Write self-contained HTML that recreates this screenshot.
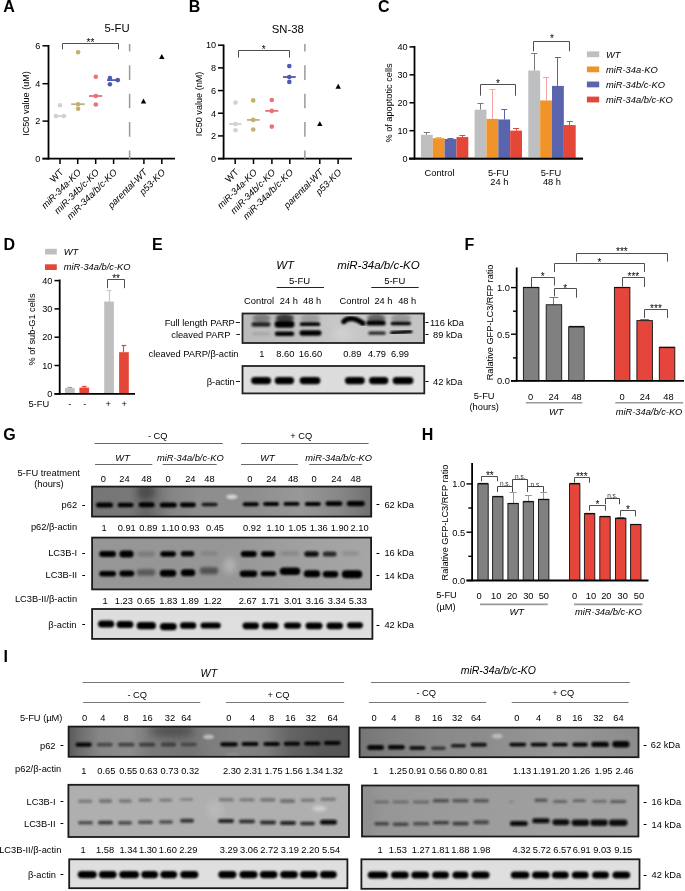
<!DOCTYPE html>
<html><head><meta charset="utf-8"><style>
html,body{margin:0;padding:0;background:#fff;}
svg{display:block;font-family:"Liberation Sans", sans-serif;will-change:transform;}
</style></head><body>
<svg width="685" height="891" viewBox="0 0 685 891">
<defs><filter id="b8" x="-50%" y="-50%" width="200%" height="200%"><feGaussianBlur stdDeviation="0.8"/></filter><filter id="b9" x="-50%" y="-50%" width="200%" height="200%"><feGaussianBlur stdDeviation="0.9"/></filter><filter id="b10" x="-50%" y="-50%" width="200%" height="200%"><feGaussianBlur stdDeviation="1.0"/></filter><filter id="b12" x="-50%" y="-50%" width="200%" height="200%"><feGaussianBlur stdDeviation="1.2"/></filter><filter id="b14" x="-50%" y="-50%" width="200%" height="200%"><feGaussianBlur stdDeviation="1.4"/></filter><filter id="b15" x="-50%" y="-50%" width="200%" height="200%"><feGaussianBlur stdDeviation="1.5"/></filter><filter id="b16" x="-50%" y="-50%" width="200%" height="200%"><feGaussianBlur stdDeviation="1.6"/></filter><filter id="b18" x="-50%" y="-50%" width="200%" height="200%"><feGaussianBlur stdDeviation="1.8"/></filter><filter id="b30" x="-50%" y="-50%" width="200%" height="200%"><feGaussianBlur stdDeviation="3.0"/></filter><filter id="b40" x="-50%" y="-50%" width="200%" height="200%"><feGaussianBlur stdDeviation="4.0"/></filter><clipPath id="c1"><rect x="242.50" y="313.50" width="181.50" height="29.50"/></clipPath><linearGradient id="g1" gradientUnits="userSpaceOnUse" x1="242.50" y1="0" x2="424.00" y2="0"><stop offset="0.0000" stop-color="rgb(186,186,186)"/><stop offset="0.3168" stop-color="rgb(192,192,192)"/><stop offset="0.5372" stop-color="rgb(200,200,200)"/><stop offset="1.0000" stop-color="rgb(196,196,196)"/></linearGradient><clipPath id="c2"><rect x="242.50" y="366.00" width="181.80" height="27.40"/></clipPath><linearGradient id="g2" gradientUnits="userSpaceOnUse" x1="242.50" y1="0" x2="424.30" y2="0"><stop offset="0.0000" stop-color="rgb(222,222,222)"/><stop offset="0.4813" stop-color="rgb(220,220,220)"/><stop offset="0.9983" stop-color="rgb(226,226,226)"/></linearGradient><clipPath id="c3"><rect x="92.00" y="486.60" width="279.20" height="30.00"/></clipPath><linearGradient id="g3" gradientUnits="userSpaceOnUse" x1="92.00" y1="0" x2="371.20" y2="0"><stop offset="0.0000" stop-color="rgb(118,118,118)"/><stop offset="0.1361" stop-color="rgb(120,120,120)"/><stop offset="0.1934" stop-color="rgb(100,100,100)"/><stop offset="0.2794" stop-color="rgb(132,132,132)"/><stop offset="0.3868" stop-color="rgb(142,142,142)"/><stop offset="0.5659" stop-color="rgb(142,142,142)"/><stop offset="0.7450" stop-color="rgb(152,152,152)"/><stop offset="0.8883" stop-color="rgb(135,135,135)"/><stop offset="0.9993" stop-color="rgb(112,112,112)"/></linearGradient><clipPath id="c4"><rect x="92.10" y="537.60" width="279.00" height="51.80"/></clipPath><linearGradient id="g4" gradientUnits="userSpaceOnUse" x1="92.10" y1="0" x2="371.10" y2="0"><stop offset="-0.0004" stop-color="rgb(150,150,150)"/><stop offset="0.4943" stop-color="rgb(150,150,150)"/><stop offset="0.7452" stop-color="rgb(160,160,160)"/><stop offset="0.9996" stop-color="rgb(166,166,166)"/></linearGradient><clipPath id="c5"><rect x="92.10" y="609.00" width="280.30" height="29.90"/></clipPath><clipPath id="c6"><rect x="68.60" y="726.60" width="280.20" height="30.20"/></clipPath><linearGradient id="g6" gradientUnits="userSpaceOnUse" x1="68.60" y1="0" x2="348.80" y2="0"><stop offset="0.0000" stop-color="rgb(88,88,88)"/><stop offset="0.0407" stop-color="rgb(110,110,110)"/><stop offset="0.1121" stop-color="rgb(135,135,135)"/><stop offset="0.2191" stop-color="rgb(140,140,140)"/><stop offset="0.2905" stop-color="rgb(122,122,122)"/><stop offset="0.4333" stop-color="rgb(116,116,116)"/><stop offset="0.5046" stop-color="rgb(125,125,125)"/><stop offset="0.6117" stop-color="rgb(130,130,130)"/><stop offset="0.7009" stop-color="rgb(126,126,126)"/><stop offset="0.7901" stop-color="rgb(100,100,100)"/><stop offset="0.8972" stop-color="rgb(88,88,88)"/><stop offset="1.0000" stop-color="rgb(85,85,85)"/></linearGradient><clipPath id="c7"><rect x="359.60" y="727.60" width="278.90" height="29.60"/></clipPath><linearGradient id="g7" gradientUnits="userSpaceOnUse" x1="359.60" y1="0" x2="638.50" y2="0"><stop offset="0.0000" stop-color="rgb(118,118,118)"/><stop offset="0.0731" stop-color="rgb(124,124,124)"/><stop offset="0.2883" stop-color="rgb(138,138,138)"/><stop offset="0.4317" stop-color="rgb(140,140,140)"/><stop offset="0.7185" stop-color="rgb(150,150,150)"/><stop offset="1.0000" stop-color="rgb(140,140,140)"/></linearGradient><clipPath id="c8"><rect x="68.40" y="784.80" width="280.60" height="52.20"/></clipPath><clipPath id="c9"><rect x="362.00" y="785.50" width="276.40" height="51.00"/></clipPath><linearGradient id="g9" gradientUnits="userSpaceOnUse" x1="362.00" y1="0" x2="638.40" y2="0"><stop offset="0.0000" stop-color="rgb(148,148,148)"/><stop offset="0.2098" stop-color="rgb(153,153,153)"/><stop offset="0.7164" stop-color="rgb(160,160,160)"/><stop offset="1.0000" stop-color="rgb(162,162,162)"/></linearGradient><clipPath id="c10"><rect x="69.20" y="859.30" width="278.20" height="28.90"/></clipPath><clipPath id="c11"><rect x="361.40" y="859.30" width="278.10" height="29.50"/></clipPath></defs>
<rect width="685" height="891" fill="#fff"/>
<text x="3.30" y="12.20" font-size="16" text-anchor="start" fill="#000" style="font-weight:bold;">A</text>
<text x="117.00" y="32.47" font-size="11.3" text-anchor="middle" fill="#000" style="">5-FU</text>
<line x1="48.50" y1="45.00" x2="48.50" y2="159.50" stroke="#000" stroke-width="1.8"/>
<line x1="42.50" y1="158.60" x2="175.00" y2="158.60" stroke="#000" stroke-width="1.8"/>
<line x1="42.50" y1="45.80" x2="48.50" y2="45.80" stroke="#000" stroke-width="1.5"/>
<text x="40.30" y="49.08" font-size="9.1" text-anchor="end" fill="#000" style="">6</text>
<line x1="42.50" y1="83.70" x2="48.50" y2="83.70" stroke="#000" stroke-width="1.5"/>
<text x="40.30" y="86.98" font-size="9.1" text-anchor="end" fill="#000" style="">4</text>
<line x1="42.50" y1="121.10" x2="48.50" y2="121.10" stroke="#000" stroke-width="1.5"/>
<text x="40.30" y="124.38" font-size="9.1" text-anchor="end" fill="#000" style="">2</text>
<line x1="42.50" y1="158.60" x2="48.50" y2="158.60" stroke="#000" stroke-width="1.5"/>
<text x="40.30" y="161.88" font-size="9.1" text-anchor="end" fill="#000" style="">0</text>
<line x1="60.00" y1="158.60" x2="60.00" y2="164.00" stroke="#000" stroke-width="1.5"/>
<text x="64.00" y="172.80" font-size="9.3" text-anchor="end" fill="#000" style="" transform="rotate(-45 64.00 172.80)">WT</text>
<line x1="77.70" y1="158.60" x2="77.70" y2="164.00" stroke="#000" stroke-width="1.5"/>
<text x="81.70" y="172.80" font-size="9.3" text-anchor="end" fill="#000" style="font-style:italic;" transform="rotate(-45 81.70 172.80)">miR-34a-KO</text>
<line x1="95.70" y1="158.60" x2="95.70" y2="164.00" stroke="#000" stroke-width="1.5"/>
<text x="99.70" y="172.80" font-size="9.3" text-anchor="end" fill="#000" style="font-style:italic;" transform="rotate(-45 99.70 172.80)">miR-34b/c-KO</text>
<line x1="113.60" y1="158.60" x2="113.60" y2="164.00" stroke="#000" stroke-width="1.5"/>
<text x="117.60" y="172.80" font-size="9.3" text-anchor="end" fill="#000" style="font-style:italic;" transform="rotate(-45 117.60 172.80)">miR-34a/b/c-KO</text>
<line x1="143.90" y1="158.60" x2="143.90" y2="164.00" stroke="#000" stroke-width="1.5"/>
<text x="147.90" y="172.80" font-size="9.3" text-anchor="end" fill="#000" style="font-style:italic;" transform="rotate(-45 147.90 172.80)">parental-WT</text>
<line x1="161.80" y1="158.60" x2="161.80" y2="164.00" stroke="#000" stroke-width="1.5"/>
<text x="165.80" y="172.80" font-size="9.3" text-anchor="end" fill="#000" style="font-style:italic;" transform="rotate(-45 165.80 172.80)">p53-KO</text>
<text x="29.10" y="103.50" font-size="9.1" text-anchor="middle" fill="#000" style="" transform="rotate(-90 29.10 103.50)">IC50 value (uM)</text>
<line x1="129.60" y1="44.00" x2="129.60" y2="159.00" stroke="#9a9a9a" stroke-width="1.5" stroke-dasharray="14.6 13.8" stroke-dashoffset="7.1"/>
<path d="M62.50 49.30V43.50H118.50V49.30" stroke="#505050" stroke-width="1" fill="none"/>
<text x="90.50" y="45.75" font-size="10" text-anchor="middle" fill="#000" style="">**</text>
<line x1="53.70" y1="116.10" x2="66.40" y2="116.10" stroke="#d2d2d2" stroke-width="1.8"/>
<circle cx="60.00" cy="105.20" r="2.3" fill="#d2d2d2"/>
<circle cx="56.00" cy="116.10" r="2.3" fill="#d2d2d2"/>
<circle cx="63.80" cy="116.10" r="2.3" fill="#d2d2d2"/>
<line x1="71.20" y1="104.20" x2="84.70" y2="104.20" stroke="#c1b06e" stroke-width="1.8"/>
<circle cx="78.10" cy="52.30" r="2.3" fill="#c1b06e"/>
<circle cx="78.10" cy="104.20" r="2.3" fill="#c1b06e"/>
<circle cx="78.10" cy="108.80" r="2.3" fill="#c1b06e"/>
<line x1="89.00" y1="96.00" x2="102.20" y2="96.00" stroke="#ee6f76" stroke-width="1.8"/>
<circle cx="95.80" cy="76.70" r="2.3" fill="#ee6f76"/>
<circle cx="95.80" cy="96.00" r="2.3" fill="#ee6f76"/>
<circle cx="95.80" cy="104.50" r="2.3" fill="#ee6f76"/>
<line x1="107.00" y1="80.10" x2="120.10" y2="80.10" stroke="#4f59b1" stroke-width="1.8"/>
<circle cx="109.90" cy="78.10" r="2.3" fill="#4f59b1"/>
<circle cx="109.90" cy="84.20" r="2.3" fill="#4f59b1"/>
<circle cx="117.70" cy="80.10" r="2.3" fill="#4f59b1"/>
<polygon points="140.80,103.43 146.20,103.43 143.50,98.57" fill="#000"/>
<polygon points="159.10,58.93 164.50,58.93 161.80,54.07" fill="#000"/>
<text x="188.70" y="12.30" font-size="16" text-anchor="start" fill="#000" style="font-weight:bold;">B</text>
<text x="287.80" y="32.57" font-size="11.3" text-anchor="middle" fill="#000" style="">SN-38</text>
<line x1="223.60" y1="44.50" x2="223.60" y2="159.50" stroke="#000" stroke-width="1.8"/>
<line x1="218.00" y1="158.60" x2="352.00" y2="158.60" stroke="#000" stroke-width="1.8"/>
<line x1="218.00" y1="45.20" x2="223.60" y2="45.20" stroke="#000" stroke-width="1.5"/>
<text x="216.00" y="48.48" font-size="9.1" text-anchor="end" fill="#000" style="">10</text>
<line x1="218.00" y1="67.88" x2="223.60" y2="67.88" stroke="#000" stroke-width="1.5"/>
<text x="216.00" y="71.16" font-size="9.1" text-anchor="end" fill="#000" style="">8</text>
<line x1="218.00" y1="90.56" x2="223.60" y2="90.56" stroke="#000" stroke-width="1.5"/>
<text x="216.00" y="93.84" font-size="9.1" text-anchor="end" fill="#000" style="">6</text>
<line x1="218.00" y1="113.24" x2="223.60" y2="113.24" stroke="#000" stroke-width="1.5"/>
<text x="216.00" y="116.52" font-size="9.1" text-anchor="end" fill="#000" style="">4</text>
<line x1="218.00" y1="135.92" x2="223.60" y2="135.92" stroke="#000" stroke-width="1.5"/>
<text x="216.00" y="139.20" font-size="9.1" text-anchor="end" fill="#000" style="">2</text>
<line x1="218.00" y1="158.60" x2="223.60" y2="158.60" stroke="#000" stroke-width="1.5"/>
<text x="216.00" y="161.88" font-size="9.1" text-anchor="end" fill="#000" style="">0</text>
<line x1="235.20" y1="158.60" x2="235.20" y2="164.00" stroke="#000" stroke-width="1.5"/>
<text x="239.20" y="172.80" font-size="9.3" text-anchor="end" fill="#000" style="" transform="rotate(-45 239.20 172.80)">WT</text>
<line x1="253.50" y1="158.60" x2="253.50" y2="164.00" stroke="#000" stroke-width="1.5"/>
<text x="257.50" y="172.80" font-size="9.3" text-anchor="end" fill="#000" style="font-style:italic;" transform="rotate(-45 257.50 172.80)">miR-34a-KO</text>
<line x1="271.90" y1="158.60" x2="271.90" y2="164.00" stroke="#000" stroke-width="1.5"/>
<text x="275.90" y="172.80" font-size="9.3" text-anchor="end" fill="#000" style="font-style:italic;" transform="rotate(-45 275.90 172.80)">miR-34b/c-KO</text>
<line x1="289.80" y1="158.60" x2="289.80" y2="164.00" stroke="#000" stroke-width="1.5"/>
<text x="293.80" y="172.80" font-size="9.3" text-anchor="end" fill="#000" style="font-style:italic;" transform="rotate(-45 293.80 172.80)">miR-34a/b/c-KO</text>
<line x1="319.80" y1="158.60" x2="319.80" y2="164.00" stroke="#000" stroke-width="1.5"/>
<text x="323.80" y="172.80" font-size="9.3" text-anchor="end" fill="#000" style="font-style:italic;" transform="rotate(-45 323.80 172.80)">parental-WT</text>
<line x1="338.10" y1="158.60" x2="338.10" y2="164.00" stroke="#000" stroke-width="1.5"/>
<text x="342.10" y="172.80" font-size="9.3" text-anchor="end" fill="#000" style="font-style:italic;" transform="rotate(-45 342.10 172.80)">p53-KO</text>
<text x="202.10" y="104.00" font-size="9.1" text-anchor="middle" fill="#000" style="" transform="rotate(-90 202.10 104.00)">IC50 value (nM)</text>
<line x1="304.90" y1="44.00" x2="304.90" y2="159.00" stroke="#9a9a9a" stroke-width="1.5" stroke-dasharray="14.6 13.8" stroke-dashoffset="7.1"/>
<path d="M238.50 57.60V50.50H289.50V57.60" stroke="#505050" stroke-width="1" fill="none"/>
<text x="263.75" y="52.55" font-size="10" text-anchor="middle" fill="#000" style="">*</text>
<line x1="229.00" y1="124.00" x2="241.60" y2="124.00" stroke="#d2d2d2" stroke-width="1.8"/>
<circle cx="235.50" cy="102.60" r="2.3" fill="#d2d2d2"/>
<circle cx="235.50" cy="124.00" r="2.3" fill="#d2d2d2"/>
<circle cx="235.50" cy="130.30" r="2.3" fill="#d2d2d2"/>
<line x1="247.00" y1="119.90" x2="259.60" y2="119.90" stroke="#c1b06e" stroke-width="1.8"/>
<circle cx="253.20" cy="100.40" r="2.3" fill="#c1b06e"/>
<circle cx="253.20" cy="119.90" r="2.3" fill="#c1b06e"/>
<circle cx="253.20" cy="129.50" r="2.3" fill="#c1b06e"/>
<line x1="265.20" y1="110.90" x2="278.30" y2="110.90" stroke="#ee6f76" stroke-width="1.8"/>
<circle cx="271.80" cy="100.00" r="2.3" fill="#ee6f76"/>
<circle cx="271.80" cy="110.90" r="2.3" fill="#ee6f76"/>
<circle cx="271.80" cy="126.60" r="2.3" fill="#ee6f76"/>
<line x1="283.00" y1="77.00" x2="295.80" y2="77.00" stroke="#4f59b1" stroke-width="1.8"/>
<circle cx="289.30" cy="66.10" r="2.3" fill="#4f59b1"/>
<circle cx="289.30" cy="77.00" r="2.3" fill="#4f59b1"/>
<circle cx="289.30" cy="81.90" r="2.3" fill="#4f59b1"/>
<polygon points="317.10,126.03 322.50,126.03 319.80,121.17" fill="#000"/>
<polygon points="335.50,88.73 340.90,88.73 338.20,83.87" fill="#000"/>
<text x="378.10" y="12.30" font-size="16" text-anchor="start" fill="#000" style="font-weight:bold;">C</text>
<line x1="414.50" y1="46.00" x2="414.50" y2="159.50" stroke="#000" stroke-width="1.8"/>
<line x1="409.00" y1="158.60" x2="583.00" y2="158.60" stroke="#000" stroke-width="1.8"/>
<line x1="409.50" y1="46.90" x2="414.50" y2="46.90" stroke="#000" stroke-width="1.5"/>
<text x="407.50" y="50.18" font-size="9.1" text-anchor="end" fill="#000" style="">40</text>
<line x1="409.50" y1="74.83" x2="414.50" y2="74.83" stroke="#000" stroke-width="1.5"/>
<text x="407.50" y="78.11" font-size="9.1" text-anchor="end" fill="#000" style="">30</text>
<line x1="409.50" y1="102.76" x2="414.50" y2="102.76" stroke="#000" stroke-width="1.5"/>
<text x="407.50" y="106.04" font-size="9.1" text-anchor="end" fill="#000" style="">20</text>
<line x1="409.50" y1="130.69" x2="414.50" y2="130.69" stroke="#000" stroke-width="1.5"/>
<text x="407.50" y="133.97" font-size="9.1" text-anchor="end" fill="#000" style="">10</text>
<line x1="409.50" y1="158.62" x2="414.50" y2="158.62" stroke="#000" stroke-width="1.5"/>
<text x="407.50" y="161.90" font-size="9.1" text-anchor="end" fill="#000" style="">0</text>
<text x="392.00" y="103.00" font-size="9.2" text-anchor="middle" fill="#000" style="" transform="rotate(-90 392.00 103.00)">% of apoptotic cells</text>
<line x1="426.50" y1="134.84" x2="426.50" y2="132.05" stroke="#7a7a7a" stroke-width="1"/>
<line x1="423.82" y1="132.50" x2="429.82" y2="132.50" stroke="#7a7a7a" stroke-width="1"/>
<rect x="420.90" y="134.84" width="11.85" height="23.76" fill="#bebfc1" stroke="none" stroke-width="0"/>
<line x1="438.50" y1="138.20" x2="438.50" y2="137.36" stroke="#f4a3a3" stroke-width="1"/>
<line x1="435.68" y1="137.50" x2="441.68" y2="137.50" stroke="#f4a3a3" stroke-width="1"/>
<rect x="432.75" y="138.20" width="11.85" height="20.40" fill="#f0942a" stroke="none" stroke-width="0"/>
<line x1="450.50" y1="139.03" x2="450.50" y2="138.48" stroke="#5a64ac" stroke-width="1"/>
<line x1="447.52" y1="138.50" x2="453.52" y2="138.50" stroke="#5a64ac" stroke-width="1"/>
<rect x="444.60" y="139.03" width="11.85" height="19.56" fill="#5a64ac" stroke="none" stroke-width="0"/>
<line x1="462.50" y1="137.08" x2="462.50" y2="135.12" stroke="#e44638" stroke-width="1"/>
<line x1="459.38" y1="135.50" x2="465.38" y2="135.50" stroke="#e44638" stroke-width="1"/>
<rect x="456.45" y="137.08" width="11.85" height="21.52" fill="#e44638" stroke="none" stroke-width="0"/>
<line x1="480.50" y1="109.69" x2="480.50" y2="103.54" stroke="#7a7a7a" stroke-width="1"/>
<line x1="477.53" y1="103.50" x2="483.53" y2="103.50" stroke="#7a7a7a" stroke-width="1"/>
<rect x="474.60" y="109.69" width="11.85" height="48.91" fill="#bebfc1" stroke="none" stroke-width="0"/>
<line x1="492.50" y1="118.91" x2="492.50" y2="89.56" stroke="#f4a3a3" stroke-width="1"/>
<line x1="489.38" y1="89.50" x2="495.38" y2="89.50" stroke="#f4a3a3" stroke-width="1"/>
<rect x="486.45" y="118.91" width="11.85" height="39.69" fill="#f0942a" stroke="none" stroke-width="0"/>
<line x1="504.50" y1="119.47" x2="504.50" y2="109.97" stroke="#5a64ac" stroke-width="1"/>
<line x1="501.23" y1="109.50" x2="507.23" y2="109.50" stroke="#5a64ac" stroke-width="1"/>
<rect x="498.30" y="119.47" width="11.85" height="39.13" fill="#5a64ac" stroke="none" stroke-width="0"/>
<line x1="516.50" y1="130.65" x2="516.50" y2="128.69" stroke="#e44638" stroke-width="1"/>
<line x1="513.08" y1="128.50" x2="519.08" y2="128.50" stroke="#e44638" stroke-width="1"/>
<rect x="510.15" y="130.65" width="11.85" height="27.95" fill="#e44638" stroke="none" stroke-width="0"/>
<line x1="534.50" y1="70.56" x2="534.50" y2="53.79" stroke="#7a7a7a" stroke-width="1"/>
<line x1="531.22" y1="53.50" x2="537.22" y2="53.50" stroke="#7a7a7a" stroke-width="1"/>
<rect x="528.30" y="70.56" width="11.85" height="88.04" fill="#bebfc1" stroke="none" stroke-width="0"/>
<line x1="546.50" y1="100.46" x2="546.50" y2="77.55" stroke="#f4a3a3" stroke-width="1"/>
<line x1="543.07" y1="77.50" x2="549.07" y2="77.50" stroke="#f4a3a3" stroke-width="1"/>
<rect x="540.15" y="100.46" width="11.85" height="58.14" fill="#f0942a" stroke="none" stroke-width="0"/>
<line x1="557.50" y1="85.93" x2="557.50" y2="57.98" stroke="#5a64ac" stroke-width="1"/>
<line x1="554.92" y1="57.50" x2="560.92" y2="57.50" stroke="#5a64ac" stroke-width="1"/>
<rect x="552.00" y="85.93" width="11.85" height="72.67" fill="#5a64ac" stroke="none" stroke-width="0"/>
<line x1="569.50" y1="125.06" x2="569.50" y2="121.43" stroke="#e44638" stroke-width="1"/>
<line x1="566.77" y1="121.50" x2="572.77" y2="121.50" stroke="#e44638" stroke-width="1"/>
<rect x="563.85" y="125.06" width="11.85" height="33.54" fill="#e44638" stroke="none" stroke-width="0"/>
<line x1="409.00" y1="158.60" x2="583.00" y2="158.60" stroke="#000" stroke-width="1.8"/>
<path d="M480.50 95.70V84.50H515.50V95.70" stroke="#505050" stroke-width="1" fill="none"/>
<text x="497.95" y="87.35" font-size="10" text-anchor="middle" fill="#000" style="">*</text>
<path d="M533.50 51.30V41.50H569.50V51.30" stroke="#505050" stroke-width="1" fill="none"/>
<text x="551.85" y="41.95" font-size="10" text-anchor="middle" fill="#000" style="">*</text>
<text x="439.50" y="175.55" font-size="9.3" text-anchor="middle" fill="#000" style="">Control</text>
<text x="498.30" y="175.55" font-size="9.3" text-anchor="middle" fill="#000" style="">5-FU</text>
<text x="499.30" y="184.95" font-size="9.3" text-anchor="middle" fill="#000" style="">24 h</text>
<text x="551.00" y="175.55" font-size="9.3" text-anchor="middle" fill="#000" style="">5-FU</text>
<text x="552.00" y="184.95" font-size="9.3" text-anchor="middle" fill="#000" style="">48 h</text>
<rect x="586.90" y="51.40" width="12.30" height="5.80" fill="#bebfc1" stroke="none" stroke-width="0"/>
<text x="606.00" y="57.65" font-size="9.3" text-anchor="start" fill="#000" style="font-style:italic;">WT</text>
<rect x="586.90" y="66.47" width="12.30" height="5.80" fill="#f0942a" stroke="none" stroke-width="0"/>
<text x="606.00" y="72.72" font-size="9.3" text-anchor="start" fill="#000" style="font-style:italic;">miR-34a-KO</text>
<rect x="586.90" y="81.54" width="12.30" height="5.80" fill="#5a64ac" stroke="none" stroke-width="0"/>
<text x="606.00" y="87.79" font-size="9.3" text-anchor="start" fill="#000" style="font-style:italic;">miR-34b/c-KO</text>
<rect x="586.90" y="96.61" width="12.30" height="5.80" fill="#e44638" stroke="none" stroke-width="0"/>
<text x="606.00" y="102.86" font-size="9.3" text-anchor="start" fill="#000" style="font-style:italic;">miR-34a/b/c-KO</text>
<text x="3.50" y="249.70" font-size="16" text-anchor="start" fill="#000" style="font-weight:bold;">D</text>
<rect x="45.00" y="248.80" width="11.80" height="5.70" fill="#bebfc1" stroke="none" stroke-width="0"/>
<text x="63.80" y="255.05" font-size="9.3" text-anchor="start" fill="#000" style="font-style:italic;">WT</text>
<rect x="45.00" y="264.30" width="11.80" height="5.70" fill="#e44638" stroke="none" stroke-width="0"/>
<text x="63.80" y="270.45" font-size="9.3" text-anchor="start" fill="#000" style="font-style:italic;">miR-34a/b/c-KO</text>
<line x1="59.70" y1="279.50" x2="59.70" y2="394.70" stroke="#000" stroke-width="1.8"/>
<line x1="54.50" y1="280.60" x2="59.70" y2="280.60" stroke="#000" stroke-width="1.5"/>
<text x="52.30" y="283.88" font-size="9.1" text-anchor="end" fill="#000" style="">40</text>
<line x1="54.50" y1="308.90" x2="59.70" y2="308.90" stroke="#000" stroke-width="1.5"/>
<text x="52.30" y="312.18" font-size="9.1" text-anchor="end" fill="#000" style="">30</text>
<line x1="54.50" y1="337.20" x2="59.70" y2="337.20" stroke="#000" stroke-width="1.5"/>
<text x="52.30" y="340.48" font-size="9.1" text-anchor="end" fill="#000" style="">20</text>
<line x1="54.50" y1="365.50" x2="59.70" y2="365.50" stroke="#000" stroke-width="1.5"/>
<text x="52.30" y="368.78" font-size="9.1" text-anchor="end" fill="#000" style="">10</text>
<line x1="54.50" y1="393.80" x2="59.70" y2="393.80" stroke="#000" stroke-width="1.5"/>
<text x="52.30" y="397.08" font-size="9.1" text-anchor="end" fill="#000" style="">0</text>
<text x="35.20" y="329.50" font-size="9.2" text-anchor="middle" fill="#000" style="" transform="rotate(-90 35.20 329.50)">% of sub-G1 cells</text>
<line x1="69.50" y1="388.14" x2="69.50" y2="387.86" stroke="#9a9a9a" stroke-width="1.2"/>
<line x1="67.50" y1="387.50" x2="72.20" y2="387.50" stroke="#9a9a9a" stroke-width="1.2"/>
<rect x="65.00" y="388.14" width="9.70" height="5.66" fill="#bebfc1" stroke="none" stroke-width="0"/>
<line x1="84.50" y1="387.57" x2="84.50" y2="386.44" stroke="#e44638" stroke-width="1.2"/>
<line x1="81.90" y1="386.50" x2="86.60" y2="386.50" stroke="#e44638" stroke-width="1.2"/>
<rect x="79.40" y="387.57" width="9.70" height="6.23" fill="#e44638" stroke="none" stroke-width="0"/>
<line x1="109.50" y1="301.54" x2="109.50" y2="290.22" stroke="#c8c8c8" stroke-width="1.2"/>
<line x1="106.70" y1="290.50" x2="111.40" y2="290.50" stroke="#c8c8c8" stroke-width="1.2"/>
<rect x="104.20" y="301.54" width="9.70" height="92.26" fill="#bebfc1" stroke="none" stroke-width="0"/>
<line x1="123.50" y1="352.20" x2="123.50" y2="345.41" stroke="#e44638" stroke-width="1.2"/>
<line x1="121.60" y1="345.50" x2="126.30" y2="345.50" stroke="#e44638" stroke-width="1.2"/>
<rect x="119.10" y="352.20" width="9.70" height="41.60" fill="#e44638" stroke="none" stroke-width="0"/>
<line x1="54.50" y1="393.80" x2="135.00" y2="393.80" stroke="#000" stroke-width="1.8"/>
<path d="M107.50 288.20V279.50H124.50V288.20" stroke="#505050" stroke-width="1" fill="none"/>
<text x="116.10" y="281.75" font-size="10" text-anchor="middle" fill="#000" style="">**</text>
<text x="38.80" y="407.45" font-size="9.3" text-anchor="middle" fill="#000" style="">5-FU</text>
<text x="69.90" y="407.45" font-size="9.3" text-anchor="middle" fill="#000" style="">-</text>
<text x="84.80" y="407.45" font-size="9.3" text-anchor="middle" fill="#000" style="">-</text>
<text x="108.30" y="407.45" font-size="9.3" text-anchor="middle" fill="#000" style="">+</text>
<text x="124.30" y="407.45" font-size="9.3" text-anchor="middle" fill="#000" style="">+</text>
<text x="152.00" y="249.70" font-size="16" text-anchor="start" fill="#000" style="font-weight:bold;">E</text>
<text x="285.20" y="268.94" font-size="11.5" text-anchor="middle" fill="#000" style="font-style:italic;">WT</text>
<text x="378.40" y="268.94" font-size="11.5" text-anchor="middle" fill="#000" style="font-style:italic;">miR-34a/b/c-KO</text>
<text x="299.50" y="283.62" font-size="9.5" text-anchor="middle" fill="#000" style="">5-FU</text>
<line x1="276.70" y1="287.50" x2="324.00" y2="287.50" stroke="#222" stroke-width="1"/>
<text x="394.70" y="283.62" font-size="9.5" text-anchor="middle" fill="#000" style="">5-FU</text>
<line x1="371.30" y1="287.50" x2="418.60" y2="287.50" stroke="#222" stroke-width="1"/>
<text x="259.10" y="304.05" font-size="9.3" text-anchor="middle" fill="#000" style="">Control</text>
<text x="288.90" y="304.05" font-size="9.3" text-anchor="middle" fill="#000" style="">24 h</text>
<text x="312.10" y="304.05" font-size="9.3" text-anchor="middle" fill="#000" style="">48 h</text>
<text x="354.60" y="304.05" font-size="9.3" text-anchor="middle" fill="#000" style="">Control</text>
<text x="383.50" y="304.05" font-size="9.3" text-anchor="middle" fill="#000" style="">24 h</text>
<text x="407.20" y="304.05" font-size="9.3" text-anchor="middle" fill="#000" style="">48 h</text>
<g clip-path="url(#c1)">
<rect x="242.50" y="313.50" width="181.50" height="29.50" fill="url(#g1)" stroke="none" stroke-width="0"/>
<ellipse cx="261.50" cy="318.20" rx="9.00" ry="4.20" fill="rgb(124,124,124)" opacity="1.0" filter="url(#b16)"/>
<ellipse cx="284.80" cy="318.20" rx="9.20" ry="4.20" fill="rgb(58,58,58)" opacity="1.0" filter="url(#b16)"/>
<ellipse cx="310.20" cy="318.20" rx="9.80" ry="4.20" fill="rgb(156,156,156)" opacity="1.0" filter="url(#b16)"/>
<ellipse cx="376.20" cy="318.20" rx="9.20" ry="4.20" fill="rgb(101,101,101)" opacity="1.0" filter="url(#b16)"/>
<ellipse cx="401.00" cy="318.20" rx="10.00" ry="4.20" fill="rgb(150,150,150)" opacity="1.0" filter="url(#b16)"/>
<ellipse cx="343.00" cy="334.00" rx="10.00" ry="6.00" fill="#d2d2d2" opacity="0.8" filter="url(#b30)"/>
<rect x="251.50" y="322.10" width="19.00" height="4.60" rx="2.30" fill="#1a1a1a" opacity="0.95" filter="url(#b9)"/>
<rect x="252.00" y="331.95" width="18.00" height="3.50" rx="1.75" fill="#555" opacity="0.18" filter="url(#b12)"/>
<rect x="274.50" y="320.70" width="20.00" height="7.00" rx="3.50" fill="#000" opacity="1" filter="url(#b8)"/>
<rect x="274.75" y="331.50" width="19.50" height="4.40" rx="2.20" fill="#000" opacity="1" filter="url(#b8)"/>
<rect x="299.75" y="322.30" width="20.50" height="3.80" rx="1.90" fill="#000" opacity="1" filter="url(#b8)"/>
<rect x="299.50" y="330.20" width="22.00" height="5.60" rx="2.80" fill="#000" opacity="1" filter="url(#b8)"/>
<path d="M343.8 321.6 C347 317.6 355 317 363 323.4" stroke="#000" stroke-width="5.2" fill="none" stroke-linecap="round" filter="url(#b8)"/>
<rect x="366.25" y="320.40" width="19.50" height="5.20" rx="2.60" fill="#000" opacity="1" filter="url(#b8)"/>
<rect x="368.25" y="331.40" width="17.50" height="3.40" rx="1.70" fill="#1a1a1a" opacity="0.95" filter="url(#b9)"/>
<rect x="390.55" y="321.70" width="20.50" height="3.60" rx="1.80" fill="#000" opacity="1" filter="url(#b8)"/>
<path d="M392 333 Q401 332.4 410.5 331.6" stroke="#111" stroke-width="4.0" fill="none" stroke-linecap="round" filter="url(#b8)"/>
</g>
<rect x="242.50" y="313.50" width="181.50" height="29.50" fill="none" stroke="#222" stroke-width="1.8"/>
<text x="234.80" y="326.35" font-size="9.3" text-anchor="end" fill="#000" style="">Full length PARP</text>
<line x1="235.80" y1="322.50" x2="240.00" y2="322.50" stroke="#222" stroke-width="1"/>
<text x="230.50" y="338.15" font-size="9.3" text-anchor="end" fill="#000" style="">cleaved PARP</text>
<line x1="236.30" y1="334.50" x2="240.00" y2="334.50" stroke="#222" stroke-width="1"/>
<text x="238.50" y="357.05" font-size="9.3" text-anchor="end" fill="#000" style="">cleaved PARP/β-actin</text>
<text x="261.90" y="357.15" font-size="9.3" text-anchor="middle" fill="#000" style="">1</text>
<text x="285.30" y="357.15" font-size="9.3" text-anchor="middle" fill="#000" style="">8.60</text>
<text x="310.50" y="357.15" font-size="9.3" text-anchor="middle" fill="#000" style="">16.60</text>
<text x="352.40" y="357.15" font-size="9.3" text-anchor="middle" fill="#000" style="">0.89</text>
<text x="377.00" y="357.15" font-size="9.3" text-anchor="middle" fill="#000" style="">4.79</text>
<text x="400.00" y="357.15" font-size="9.3" text-anchor="middle" fill="#000" style="">6.99</text>
<line x1="425.50" y1="322.50" x2="428.50" y2="322.50" stroke="#000" stroke-width="1"/>
<text x="430.00" y="326.45" font-size="9.3" text-anchor="start" fill="#000" style="">116 kDa</text>
<line x1="425.50" y1="334.50" x2="428.50" y2="334.50" stroke="#000" stroke-width="1"/>
<text x="433.00" y="338.45" font-size="9.3" text-anchor="start" fill="#000" style="">89 kDa</text>
<g clip-path="url(#c2)">
<rect x="242.50" y="366.00" width="181.80" height="27.40" fill="url(#g2)" stroke="none" stroke-width="0"/>
<rect x="251.10" y="377.00" width="20.00" height="7.20" rx="3.60" fill="#000" opacity="1" filter="url(#b9)"/>
<rect x="274.70" y="377.00" width="19.40" height="7.20" rx="3.60" fill="#000" opacity="1" filter="url(#b9)"/>
<rect x="299.60" y="377.00" width="20.80" height="7.20" rx="3.60" fill="#000" opacity="1" filter="url(#b9)"/>
<rect x="344.90" y="377.00" width="19.90" height="7.20" rx="3.60" fill="#000" opacity="1" filter="url(#b9)"/>
<rect x="369.00" y="377.00" width="19.40" height="7.20" rx="3.60" fill="#000" opacity="1" filter="url(#b9)"/>
<rect x="392.60" y="377.00" width="20.80" height="7.20" rx="3.60" fill="#000" opacity="1" filter="url(#b9)"/>
</g>
<rect x="242.50" y="366.00" width="181.80" height="27.40" fill="none" stroke="#222" stroke-width="1.8"/>
<text x="234.80" y="384.85" font-size="9.3" text-anchor="end" fill="#000" style="">β-actin</text>
<line x1="235.80" y1="381.50" x2="240.00" y2="381.50" stroke="#222" stroke-width="1"/>
<line x1="425.50" y1="381.50" x2="428.50" y2="381.50" stroke="#000" stroke-width="1"/>
<text x="433.00" y="385.35" font-size="9.3" text-anchor="start" fill="#000" style="">42 kDa</text>
<text x="464.60" y="249.70" font-size="16" text-anchor="start" fill="#000" style="font-weight:bold;">F</text>
<rect x="523.40" y="287.50" width="15.50" height="93.30" fill="#808080" stroke="#111" stroke-width="0.9"/>
<line x1="523.40" y1="287.50" x2="538.90" y2="287.50" stroke="#111" stroke-width="1.2"/>
<line x1="553.50" y1="304.76" x2="553.50" y2="297.48" stroke="#777" stroke-width="1"/>
<line x1="549.50" y1="297.50" x2="558.20" y2="297.50" stroke="#777" stroke-width="1"/>
<rect x="546.20" y="304.76" width="15.50" height="76.04" fill="#808080" stroke="#111" stroke-width="0.9"/>
<rect x="568.70" y="326.97" width="15.50" height="53.83" fill="#808080" stroke="#111" stroke-width="0.9"/>
<line x1="568.70" y1="326.50" x2="584.20" y2="326.50" stroke="#111" stroke-width="1.2"/>
<rect x="614.40" y="287.50" width="15.50" height="93.30" fill="#e5453a" stroke="#111" stroke-width="0.9"/>
<line x1="614.40" y1="287.50" x2="629.90" y2="287.50" stroke="#111" stroke-width="1.2"/>
<line x1="644.50" y1="320.62" x2="644.50" y2="319.97" stroke="#e5453a" stroke-width="1"/>
<line x1="640.20" y1="319.50" x2="648.90" y2="319.50" stroke="#e5453a" stroke-width="1"/>
<rect x="636.90" y="320.62" width="15.50" height="60.18" fill="#e5453a" stroke="#111" stroke-width="0.9"/>
<rect x="659.30" y="347.21" width="15.50" height="33.59" fill="#e5453a" stroke="#111" stroke-width="0.9"/>
<line x1="659.30" y1="347.50" x2="674.80" y2="347.50" stroke="#111" stroke-width="1.2"/>
<line x1="516.70" y1="267.50" x2="516.70" y2="381.60" stroke="#000" stroke-width="1.8"/>
<line x1="511.00" y1="380.80" x2="684.00" y2="380.80" stroke="#000" stroke-width="1.8"/>
<line x1="511.00" y1="287.60" x2="516.70" y2="287.60" stroke="#000" stroke-width="1.4"/>
<text x="509.90" y="290.95" font-size="9.3" text-anchor="end" fill="#000" style="">1.0</text>
<line x1="511.00" y1="334.20" x2="516.70" y2="334.20" stroke="#000" stroke-width="1.4"/>
<text x="509.90" y="337.55" font-size="9.3" text-anchor="end" fill="#000" style="">0.5</text>
<line x1="511.00" y1="380.80" x2="516.70" y2="380.80" stroke="#000" stroke-width="1.4"/>
<text x="509.90" y="384.15" font-size="9.3" text-anchor="end" fill="#000" style="">0.0</text>
<line x1="513.00" y1="311.20" x2="516.70" y2="311.20" stroke="#000" stroke-width="1.4"/>
<line x1="513.00" y1="357.90" x2="516.70" y2="357.90" stroke="#000" stroke-width="1.4"/>
<text x="492.60" y="322.40" font-size="9.2" text-anchor="middle" fill="#000" style="" transform="rotate(-90 492.60 322.40)">Ralative GFP-LC3/RFP ratio</text>
<path d="M531.50 287.00V277.50H554.50V285.50" stroke="#505050" stroke-width="1" fill="none"/>
<text x="542.60" y="279.95" font-size="10" text-anchor="middle" fill="#000" style="">*</text>
<path d="M554.50 296.30V288.50H576.50V297.70" stroke="#505050" stroke-width="1" fill="none"/>
<text x="565.30" y="291.75" font-size="10" text-anchor="middle" fill="#000" style="">*</text>
<path d="M554.50 272.00V263.50H644.50V272.00" stroke="#505050" stroke-width="1" fill="none"/>
<text x="599.40" y="266.45" font-size="10" text-anchor="middle" fill="#000" style="">*</text>
<path d="M576.50 261.70V253.50H667.50V261.70" stroke="#505050" stroke-width="1" fill="none"/>
<text x="621.85" y="254.75" font-size="10" text-anchor="middle" fill="#000" style="">***</text>
<path d="M622.50 286.50V277.50H644.50V286.90" stroke="#505050" stroke-width="1" fill="none"/>
<text x="633.40" y="280.45" font-size="10" text-anchor="middle" fill="#000" style="">***</text>
<path d="M644.50 317.90V309.50H667.50V317.90" stroke="#505050" stroke-width="1" fill="none"/>
<text x="655.95" y="312.35" font-size="10" text-anchor="middle" fill="#000" style="">***</text>
<text x="484.20" y="399.35" font-size="9.3" text-anchor="middle" fill="#000" style="">5-FU</text>
<text x="484.20" y="410.05" font-size="9.3" text-anchor="middle" fill="#000" style="">(hours)</text>
<text x="530.70" y="399.65" font-size="9.3" text-anchor="middle" fill="#000" style="">0</text>
<text x="553.70" y="399.65" font-size="9.3" text-anchor="middle" fill="#000" style="">24</text>
<text x="576.60" y="399.65" font-size="9.3" text-anchor="middle" fill="#000" style="">48</text>
<text x="622.20" y="399.65" font-size="9.3" text-anchor="middle" fill="#000" style="">0</text>
<text x="645.00" y="399.65" font-size="9.3" text-anchor="middle" fill="#000" style="">24</text>
<text x="668.50" y="399.65" font-size="9.3" text-anchor="middle" fill="#000" style="">48</text>
<line x1="525.80" y1="402.80" x2="582.30" y2="402.80" stroke="#9a9a9a" stroke-width="1.6"/>
<text x="556.20" y="415.05" font-size="9.3" text-anchor="middle" fill="#000" style="font-style:italic;">WT</text>
<line x1="615.30" y1="402.80" x2="683.20" y2="402.80" stroke="#9a9a9a" stroke-width="1.6"/>
<text x="649.00" y="415.05" font-size="9.3" text-anchor="middle" fill="#000" style="font-style:italic;">miR-34a/b/c-KO</text>
<text x="3.30" y="440.20" font-size="16" text-anchor="start" fill="#000" style="font-weight:bold;">G</text>
<text x="157.70" y="439.15" font-size="9.3" text-anchor="middle" fill="#000" style="">- CQ</text>
<line x1="94.60" y1="443.50" x2="222.80" y2="443.50" stroke="#666" stroke-width="1"/>
<text x="301.20" y="438.85" font-size="9.3" text-anchor="middle" fill="#000" style="">+ CQ</text>
<line x1="241.10" y1="443.50" x2="368.60" y2="443.50" stroke="#666" stroke-width="1"/>
<text x="122.60" y="461.15" font-size="9.3" text-anchor="middle" fill="#000" style="font-style:italic;">WT</text>
<line x1="95.10" y1="464.50" x2="152.30" y2="464.50" stroke="#666" stroke-width="1"/>
<text x="190.30" y="461.15" font-size="9.3" text-anchor="middle" fill="#000" style="font-style:italic;">miR-34a/b/c-KO</text>
<line x1="162.60" y1="464.50" x2="216.70" y2="464.50" stroke="#666" stroke-width="1"/>
<text x="267.40" y="460.95" font-size="9.3" text-anchor="middle" fill="#000" style="font-style:italic;">WT</text>
<line x1="241.10" y1="464.50" x2="298.00" y2="464.50" stroke="#666" stroke-width="1"/>
<text x="338.70" y="460.95" font-size="9.3" text-anchor="middle" fill="#000" style="font-style:italic;">miR-34a/b/c-KO</text>
<line x1="309.20" y1="464.50" x2="362.20" y2="464.50" stroke="#666" stroke-width="1"/>
<text x="48.70" y="475.95" font-size="9.3" text-anchor="middle" fill="#000" style="">5-FU treatment</text>
<text x="49.00" y="487.15" font-size="9.3" text-anchor="middle" fill="#000" style="">(hours)</text>
<text x="103.40" y="481.85" font-size="9.3" text-anchor="middle" fill="#000" style="">0</text>
<text x="124.40" y="481.85" font-size="9.3" text-anchor="middle" fill="#000" style="">24</text>
<text x="146.50" y="481.85" font-size="9.3" text-anchor="middle" fill="#000" style="">48</text>
<text x="168.20" y="481.85" font-size="9.3" text-anchor="middle" fill="#000" style="">0</text>
<text x="190.30" y="481.85" font-size="9.3" text-anchor="middle" fill="#000" style="">24</text>
<text x="209.50" y="481.85" font-size="9.3" text-anchor="middle" fill="#000" style="">48</text>
<text x="249.80" y="481.85" font-size="9.3" text-anchor="middle" fill="#000" style="">0</text>
<text x="271.30" y="481.85" font-size="9.3" text-anchor="middle" fill="#000" style="">24</text>
<text x="293.10" y="481.85" font-size="9.3" text-anchor="middle" fill="#000" style="">48</text>
<text x="314.00" y="481.85" font-size="9.3" text-anchor="middle" fill="#000" style="">0</text>
<text x="336.50" y="481.85" font-size="9.3" text-anchor="middle" fill="#000" style="">24</text>
<text x="355.70" y="481.85" font-size="9.3" text-anchor="middle" fill="#000" style="">48</text>
<g clip-path="url(#c3)">
<rect x="92.00" y="486.60" width="279.20" height="30.00" fill="url(#g3)" stroke="none" stroke-width="0"/>
<ellipse cx="146.00" cy="492.00" rx="9.00" ry="7.00" fill="#4a4a4a" opacity="0.9" filter="url(#b30)"/>
<ellipse cx="231.80" cy="496.80" rx="5.50" ry="2.40" fill="#dcdcdc" opacity="0.9" filter="url(#b10)"/>
<rect x="96.00" y="502.50" width="17.00" height="5.00" rx="2.50" fill="#000" opacity="1" filter="url(#b10)"/>
<rect x="117.50" y="502.70" width="16.00" height="4.60" rx="2.30" fill="#000" opacity="1" filter="url(#b10)"/>
<rect x="138.60" y="502.30" width="16.00" height="5.00" rx="2.50" fill="#000" opacity="1" filter="url(#b10)"/>
<rect x="159.80" y="502.50" width="17.00" height="5.00" rx="2.50" fill="#000" opacity="1" filter="url(#b10)"/>
<rect x="179.90" y="502.40" width="16.00" height="4.80" rx="2.40" fill="#000" opacity="1" filter="url(#b10)"/>
<rect x="201.60" y="502.70" width="16.00" height="3.60" rx="1.80" fill="#000" opacity="0.85" filter="url(#b10)"/>
<rect x="242.70" y="502.20" width="16.00" height="4.00" rx="2.00" fill="#000" opacity="1" filter="url(#b10)"/>
<rect x="263.10" y="502.00" width="16.00" height="4.00" rx="2.00" fill="#000" opacity="1" filter="url(#b10)"/>
<rect x="283.50" y="502.00" width="16.00" height="3.80" rx="1.90" fill="#000" opacity="1" filter="url(#b10)"/>
<rect x="304.80" y="501.90" width="16.00" height="4.00" rx="2.00" fill="#000" opacity="1" filter="url(#b10)"/>
<rect x="325.40" y="501.20" width="17.00" height="4.80" rx="2.40" fill="#000" opacity="1" filter="url(#b10)"/>
<rect x="346.80" y="501.00" width="18.00" height="5.20" rx="2.60" fill="#000" opacity="1" filter="url(#b10)"/>
</g>
<rect x="92.00" y="486.60" width="279.20" height="30.00" fill="none" stroke="#1a1a1a" stroke-width="1.8"/>
<text x="77.10" y="508.45" font-size="9.3" text-anchor="end" fill="#000" style="">p62</text>
<line x1="82.30" y1="505.50" x2="85.00" y2="505.50" stroke="#000" stroke-width="1"/>
<line x1="376.50" y1="504.50" x2="379.30" y2="504.50" stroke="#000" stroke-width="1"/>
<text x="384.40" y="508.15" font-size="9.3" text-anchor="start" fill="#000" style="">62 kDa</text>
<text x="77.10" y="530.25" font-size="9.3" text-anchor="end" fill="#000" style="">p62/β-actin</text>
<text x="104.10" y="530.95" font-size="9.3" text-anchor="middle" fill="#000" style="">1</text>
<text x="126.70" y="530.95" font-size="9.3" text-anchor="middle" fill="#000" style="">0.91</text>
<text x="148.40" y="530.95" font-size="9.3" text-anchor="middle" fill="#000" style="">0.89</text>
<text x="170.40" y="530.95" font-size="9.3" text-anchor="middle" fill="#000" style="">1.10</text>
<text x="190.50" y="530.95" font-size="9.3" text-anchor="middle" fill="#000" style="">0.93</text>
<text x="215.00" y="530.95" font-size="9.3" text-anchor="middle" fill="#000" style="">0.45</text>
<text x="252.10" y="530.95" font-size="9.3" text-anchor="middle" fill="#000" style="">0.92</text>
<text x="275.50" y="530.95" font-size="9.3" text-anchor="middle" fill="#000" style="">1.10</text>
<text x="297.40" y="530.95" font-size="9.3" text-anchor="middle" fill="#000" style="">1.05</text>
<text x="318.70" y="530.95" font-size="9.3" text-anchor="middle" fill="#000" style="">1.36</text>
<text x="339.70" y="530.95" font-size="9.3" text-anchor="middle" fill="#000" style="">1.90</text>
<text x="359.60" y="530.95" font-size="9.3" text-anchor="middle" fill="#000" style="">2.10</text>
<g clip-path="url(#c4)">
<rect x="92.10" y="537.60" width="279.00" height="51.80" fill="url(#g4)" stroke="none" stroke-width="0"/>
<ellipse cx="229.70" cy="565.70" rx="6.00" ry="8.00" fill="#c0c0c0" opacity="0.7" filter="url(#b30)"/>
<rect x="99.25" y="551.10" width="16.80" height="5.80" rx="2.90" fill="#000" opacity="1" filter="url(#b9)"/>
<rect x="119.35" y="550.50" width="14.30" height="7.00" rx="3.50" fill="#000" opacity="1" filter="url(#b9)"/>
<rect x="137.35" y="551.50" width="17.50" height="5.00" rx="2.50" fill="#000" opacity="0.18" filter="url(#b15)"/>
<rect x="160.25" y="551.20" width="15.70" height="5.60" rx="2.80" fill="#000" opacity="1" filter="url(#b9)"/>
<rect x="180.75" y="551.00" width="13.60" height="5.60" rx="2.80" fill="#000" opacity="0.95" filter="url(#b9)"/>
<rect x="200.85" y="551.25" width="16.40" height="4.50" rx="2.25" fill="#000" opacity="0.12" filter="url(#b15)"/>
<rect x="240.75" y="551.00" width="16.00" height="6.00" rx="3.00" fill="#000" opacity="1" filter="url(#b9)"/>
<rect x="261.05" y="551.30" width="14.10" height="5.40" rx="2.70" fill="#000" opacity="1" filter="url(#b9)"/>
<rect x="280.55" y="551.25" width="18.50" height="4.50" rx="2.25" fill="#000" opacity="0.14" filter="url(#b15)"/>
<rect x="304.25" y="551.30" width="14.50" height="5.40" rx="2.70" fill="#000" opacity="0.9" filter="url(#b9)"/>
<rect x="322.85" y="551.40" width="13.70" height="5.20" rx="2.60" fill="#000" opacity="0.75" filter="url(#b9)"/>
<rect x="341.95" y="551.25" width="17.40" height="4.50" rx="2.25" fill="#000" opacity="0.12" filter="url(#b15)"/>
<rect x="99.25" y="571.10" width="16.80" height="5.40" rx="2.70" fill="#000" opacity="1" filter="url(#b9)"/>
<rect x="119.35" y="570.50" width="14.90" height="6.00" rx="3.00" fill="#000" opacity="1" filter="url(#b9)"/>
<rect x="136.75" y="569.25" width="18.50" height="6.50" rx="3.25" fill="#000" opacity="0.4" filter="url(#b14)"/>
<rect x="159.75" y="569.70" width="16.50" height="7.00" rx="3.50" fill="#000" opacity="1" filter="url(#b9)"/>
<rect x="180.75" y="569.30" width="14.50" height="7.00" rx="3.50" fill="#000" opacity="1" filter="url(#b9)"/>
<rect x="199.75" y="567.30" width="18.50" height="7.00" rx="3.50" fill="#000" opacity="0.45" filter="url(#b14)"/>
<rect x="239.75" y="570.50" width="17.50" height="6.60" rx="3.30" fill="#000" opacity="1" filter="url(#b9)"/>
<rect x="260.75" y="571.30" width="15.50" height="5.00" rx="2.50" fill="#000" opacity="1" filter="url(#b9)"/>
<rect x="279.75" y="567.55" width="20.50" height="7.50" rx="3.75" fill="#000" opacity="1" filter="url(#b9)"/>
<rect x="303.75" y="570.20" width="16.50" height="7.00" rx="3.50" fill="#000" opacity="1" filter="url(#b9)"/>
<rect x="322.75" y="570.90" width="15.50" height="6.60" rx="3.30" fill="#000" opacity="1" filter="url(#b9)"/>
<rect x="341.75" y="570.20" width="20.50" height="8.00" rx="4.00" fill="#000" opacity="1" filter="url(#b9)"/>
</g>
<rect x="92.10" y="537.60" width="279.00" height="51.80" fill="none" stroke="#1a1a1a" stroke-width="1.8"/>
<text x="77.10" y="556.45" font-size="9.3" text-anchor="end" fill="#000" style="">LC3B-I</text>
<line x1="82.30" y1="553.50" x2="85.00" y2="553.50" stroke="#000" stroke-width="1"/>
<text x="77.10" y="578.35" font-size="9.3" text-anchor="end" fill="#000" style="">LC3B-II</text>
<line x1="82.30" y1="575.50" x2="85.00" y2="575.50" stroke="#000" stroke-width="1"/>
<line x1="376.50" y1="553.50" x2="379.30" y2="553.50" stroke="#000" stroke-width="1"/>
<text x="384.40" y="556.35" font-size="9.3" text-anchor="start" fill="#000" style="">16 kDa</text>
<line x1="376.50" y1="575.50" x2="379.30" y2="575.50" stroke="#000" stroke-width="1"/>
<text x="384.40" y="578.65" font-size="9.3" text-anchor="start" fill="#000" style="">14 kDa</text>
<text x="77.10" y="601.75" font-size="9.3" text-anchor="end" fill="#000" style="">LC3B-II/β-actin</text>
<text x="105.00" y="603.55" font-size="9.3" text-anchor="middle" fill="#000" style="">1</text>
<text x="123.90" y="603.55" font-size="9.3" text-anchor="middle" fill="#000" style="">1.23</text>
<text x="146.10" y="603.55" font-size="9.3" text-anchor="middle" fill="#000" style="">0.65</text>
<text x="168.30" y="603.55" font-size="9.3" text-anchor="middle" fill="#000" style="">1.83</text>
<text x="189.80" y="603.55" font-size="9.3" text-anchor="middle" fill="#000" style="">1.89</text>
<text x="212.70" y="603.55" font-size="9.3" text-anchor="middle" fill="#000" style="">1.22</text>
<text x="247.70" y="603.55" font-size="9.3" text-anchor="middle" fill="#000" style="">2.67</text>
<text x="270.20" y="603.55" font-size="9.3" text-anchor="middle" fill="#000" style="">1.71</text>
<text x="293.00" y="603.55" font-size="9.3" text-anchor="middle" fill="#000" style="">3.01</text>
<text x="314.90" y="603.55" font-size="9.3" text-anchor="middle" fill="#000" style="">3.16</text>
<text x="336.80" y="603.55" font-size="9.3" text-anchor="middle" fill="#000" style="">3.34</text>
<text x="357.80" y="603.55" font-size="9.3" text-anchor="middle" fill="#000" style="">5.33</text>
<g clip-path="url(#c5)">
<rect x="92.10" y="609.00" width="280.30" height="29.90" fill="#dedede" stroke="none" stroke-width="0"/>
<rect x="98.00" y="620.40" width="16.30" height="7.20" rx="3.60" fill="#000" opacity="1" filter="url(#b9)"/>
<rect x="116.50" y="620.90" width="16.90" height="7.20" rx="3.60" fill="#000" opacity="1" filter="url(#b9)"/>
<rect x="136.60" y="622.10" width="19.40" height="7.20" rx="3.60" fill="#000" opacity="1" filter="url(#b9)"/>
<rect x="159.90" y="623.00" width="16.90" height="7.20" rx="3.60" fill="#000" opacity="1" filter="url(#b9)"/>
<rect x="180.00" y="622.15" width="16.30" height="6.70" rx="3.35" fill="#000" opacity="1" filter="url(#b9)"/>
<rect x="200.50" y="622.40" width="20.30" height="6.20" rx="3.10" fill="#000" opacity="1" filter="url(#b9)"/>
<rect x="242.50" y="622.45" width="16.50" height="6.70" rx="3.35" fill="#000" opacity="1" filter="url(#b9)"/>
<rect x="262.00" y="622.45" width="16.50" height="6.70" rx="3.35" fill="#000" opacity="1" filter="url(#b9)"/>
<rect x="284.00" y="622.50" width="17.00" height="6.20" rx="3.10" fill="#000" opacity="1" filter="url(#b9)"/>
<rect x="305.50" y="622.45" width="17.00" height="6.70" rx="3.35" fill="#000" opacity="1" filter="url(#b9)"/>
<rect x="326.50" y="622.45" width="16.50" height="6.70" rx="3.35" fill="#000" opacity="1" filter="url(#b9)"/>
<rect x="347.00" y="622.20" width="16.00" height="6.20" rx="3.10" fill="#000" opacity="1" filter="url(#b9)"/>
</g>
<rect x="92.10" y="609.00" width="280.30" height="29.90" fill="none" stroke="#1a1a1a" stroke-width="1.8"/>
<text x="76.40" y="628.05" font-size="9.3" text-anchor="end" fill="#000" style="">β-actin</text>
<line x1="82.30" y1="624.50" x2="85.00" y2="624.50" stroke="#000" stroke-width="1"/>
<line x1="376.50" y1="625.50" x2="379.30" y2="625.50" stroke="#000" stroke-width="1"/>
<text x="384.40" y="628.35" font-size="9.3" text-anchor="start" fill="#000" style="">42 kDa</text>
<text x="421.70" y="439.80" font-size="16" text-anchor="start" fill="#000" style="font-weight:bold;">H</text>
<rect x="477.80" y="483.90" width="10.40" height="96.60" fill="#808080" stroke="#111" stroke-width="0.9"/>
<line x1="477.80" y1="483.50" x2="488.20" y2="483.50" stroke="#111" stroke-width="1.2"/>
<line x1="497.50" y1="496.75" x2="497.50" y2="496.36" stroke="#999" stroke-width="1"/>
<line x1="494.30" y1="496.50" x2="501.30" y2="496.50" stroke="#999" stroke-width="1"/>
<rect x="492.60" y="496.75" width="10.40" height="83.75" fill="#808080" stroke="#111" stroke-width="0.9"/>
<line x1="492.60" y1="496.50" x2="503.00" y2="496.50" stroke="#111" stroke-width="1.2"/>
<line x1="513.50" y1="503.51" x2="513.50" y2="492.59" stroke="#999" stroke-width="1"/>
<line x1="509.60" y1="492.50" x2="516.60" y2="492.50" stroke="#999" stroke-width="1"/>
<rect x="507.90" y="503.51" width="10.40" height="76.99" fill="#808080" stroke="#111" stroke-width="0.9"/>
<line x1="507.90" y1="503.50" x2="518.30" y2="503.50" stroke="#111" stroke-width="1.2"/>
<line x1="528.50" y1="501.77" x2="528.50" y2="495.01" stroke="#999" stroke-width="1"/>
<line x1="524.90" y1="495.50" x2="531.90" y2="495.50" stroke="#999" stroke-width="1"/>
<rect x="523.20" y="501.77" width="10.40" height="78.73" fill="#808080" stroke="#111" stroke-width="0.9"/>
<line x1="523.20" y1="501.50" x2="533.60" y2="501.50" stroke="#111" stroke-width="1.2"/>
<line x1="543.50" y1="499.36" x2="543.50" y2="492.59" stroke="#999" stroke-width="1"/>
<line x1="540.20" y1="492.50" x2="547.20" y2="492.50" stroke="#999" stroke-width="1"/>
<rect x="538.50" y="499.36" width="10.40" height="81.14" fill="#808080" stroke="#111" stroke-width="0.9"/>
<line x1="538.50" y1="499.50" x2="548.90" y2="499.50" stroke="#111" stroke-width="1.2"/>
<rect x="569.50" y="483.90" width="10.40" height="96.60" fill="#e5453a" stroke="#111" stroke-width="0.9"/>
<line x1="569.50" y1="483.50" x2="579.90" y2="483.50" stroke="#111" stroke-width="1.2"/>
<line x1="589.50" y1="513.85" x2="589.50" y2="513.17" stroke="#e5453a" stroke-width="1"/>
<line x1="586.10" y1="513.50" x2="593.10" y2="513.50" stroke="#e5453a" stroke-width="1"/>
<rect x="584.40" y="513.85" width="10.40" height="66.65" fill="#e5453a" stroke="#111" stroke-width="0.9"/>
<line x1="584.40" y1="513.50" x2="594.80" y2="513.50" stroke="#111" stroke-width="1.2"/>
<line x1="605.50" y1="516.74" x2="605.50" y2="516.45" stroke="#e5453a" stroke-width="1"/>
<line x1="601.50" y1="516.50" x2="608.50" y2="516.50" stroke="#e5453a" stroke-width="1"/>
<rect x="599.80" y="516.74" width="10.40" height="63.76" fill="#e5453a" stroke="#111" stroke-width="0.9"/>
<line x1="599.80" y1="516.50" x2="610.20" y2="516.50" stroke="#111" stroke-width="1.2"/>
<line x1="620.50" y1="518.19" x2="620.50" y2="517.52" stroke="#e5453a" stroke-width="1"/>
<line x1="617.20" y1="517.50" x2="624.20" y2="517.50" stroke="#e5453a" stroke-width="1"/>
<rect x="615.50" y="518.19" width="10.40" height="62.31" fill="#e5453a" stroke="#111" stroke-width="0.9"/>
<line x1="615.50" y1="518.50" x2="625.90" y2="518.50" stroke="#111" stroke-width="1.2"/>
<line x1="635.50" y1="524.47" x2="635.50" y2="524.09" stroke="#e5453a" stroke-width="1"/>
<line x1="632.30" y1="524.50" x2="639.30" y2="524.50" stroke="#e5453a" stroke-width="1"/>
<rect x="630.60" y="524.47" width="10.40" height="56.03" fill="#e5453a" stroke="#111" stroke-width="0.9"/>
<line x1="630.60" y1="524.50" x2="641.00" y2="524.50" stroke="#111" stroke-width="1.2"/>
<line x1="472.10" y1="462.90" x2="472.10" y2="581.30" stroke="#000" stroke-width="1.8"/>
<line x1="466.50" y1="580.50" x2="648.50" y2="580.50" stroke="#000" stroke-width="1.8"/>
<line x1="466.50" y1="483.90" x2="472.10" y2="483.90" stroke="#000" stroke-width="1.4"/>
<text x="465.20" y="487.25" font-size="9.3" text-anchor="end" fill="#000" style="">1.0</text>
<line x1="466.50" y1="532.20" x2="472.10" y2="532.20" stroke="#000" stroke-width="1.4"/>
<text x="465.20" y="535.55" font-size="9.3" text-anchor="end" fill="#000" style="">0.5</text>
<line x1="466.50" y1="580.50" x2="472.10" y2="580.50" stroke="#000" stroke-width="1.4"/>
<text x="465.20" y="583.85" font-size="9.3" text-anchor="end" fill="#000" style="">0.0</text>
<line x1="468.30" y1="508.00" x2="472.10" y2="508.00" stroke="#000" stroke-width="1.4"/>
<line x1="468.30" y1="556.30" x2="472.10" y2="556.30" stroke="#000" stroke-width="1.4"/>
<text x="447.50" y="522.50" font-size="9.2" text-anchor="middle" fill="#000" style="" transform="rotate(-90 447.50 522.50)">Ralative GFP-LC3/RFP ratio</text>
<path d="M481.50 481.30V476.50H497.50V481.30" stroke="#505050" stroke-width="1" fill="none"/>
<text x="489.80" y="479.25" font-size="10" text-anchor="middle" fill="#000" style="">**</text>
<path d="M497.50 491.90V486.50H512.50V491.90" stroke="#444" stroke-width="1" fill="none"/>
<text x="505.15" y="486.29" font-size="6.5" text-anchor="middle" fill="#333" style="">n.s.</text>
<path d="M512.50 486.40V479.50H527.50V486.40" stroke="#444" stroke-width="1" fill="none"/>
<text x="520.25" y="478.99" font-size="6.5" text-anchor="middle" fill="#333" style="">n.s.</text>
<path d="M527.50 491.90V486.50H543.50V491.90" stroke="#444" stroke-width="1" fill="none"/>
<text x="535.75" y="486.99" font-size="6.5" text-anchor="middle" fill="#333" style="">n.s.</text>
<path d="M574.50 482.70V477.50H589.50V482.70" stroke="#505050" stroke-width="1" fill="none"/>
<text x="581.80" y="479.85" font-size="10" text-anchor="middle" fill="#000" style="">***</text>
<path d="M589.50 510.70V505.50H605.50V510.70" stroke="#505050" stroke-width="1" fill="none"/>
<text x="597.45" y="507.85" font-size="10" text-anchor="middle" fill="#000" style="">*</text>
<path d="M605.50 504.20V498.50H619.50V504.20" stroke="#444" stroke-width="1" fill="none"/>
<text x="612.45" y="497.99" font-size="6.5" text-anchor="middle" fill="#333" style="">n.s.</text>
<path d="M620.50 516.40V510.50H635.50V516.40" stroke="#505050" stroke-width="1" fill="none"/>
<text x="628.05" y="513.35" font-size="10" text-anchor="middle" fill="#000" style="">*</text>
<text x="446.50" y="598.25" font-size="9.3" text-anchor="middle" fill="#000" style="">5-FU</text>
<text x="446.00" y="609.85" font-size="9.3" text-anchor="middle" fill="#000" style="">(µM)</text>
<text x="479.20" y="599.05" font-size="9.3" text-anchor="middle" fill="#000" style="">0</text>
<text x="496.20" y="599.05" font-size="9.3" text-anchor="middle" fill="#000" style="">10</text>
<text x="512.10" y="599.05" font-size="9.3" text-anchor="middle" fill="#000" style="">20</text>
<text x="528.30" y="599.05" font-size="9.3" text-anchor="middle" fill="#000" style="">30</text>
<text x="543.80" y="599.05" font-size="9.3" text-anchor="middle" fill="#000" style="">50</text>
<text x="574.60" y="599.05" font-size="9.3" text-anchor="middle" fill="#000" style="">0</text>
<text x="591.00" y="599.05" font-size="9.3" text-anchor="middle" fill="#000" style="">10</text>
<text x="606.30" y="599.05" font-size="9.3" text-anchor="middle" fill="#000" style="">20</text>
<text x="622.70" y="599.05" font-size="9.3" text-anchor="middle" fill="#000" style="">30</text>
<text x="639.00" y="599.05" font-size="9.3" text-anchor="middle" fill="#000" style="">50</text>
<line x1="480.00" y1="604.40" x2="547.70" y2="604.40" stroke="#9a9a9a" stroke-width="1.6"/>
<text x="516.70" y="614.85" font-size="9.3" text-anchor="middle" fill="#000" style="font-style:italic;">WT</text>
<line x1="574.00" y1="604.40" x2="642.40" y2="604.40" stroke="#9a9a9a" stroke-width="1.6"/>
<text x="608.40" y="614.85" font-size="9.3" text-anchor="middle" fill="#000" style="font-style:italic;">miR-34a/b/c-KO</text>
<text x="3.50" y="661.70" font-size="16" text-anchor="start" fill="#000" style="font-weight:bold;">I</text>
<text x="208.90" y="676.55" font-size="10.7" text-anchor="middle" fill="#000" style="font-style:italic;">WT</text>
<line x1="82.50" y1="682.50" x2="344.20" y2="682.50" stroke="#777" stroke-width="1"/>
<text x="498.30" y="673.98" font-size="10.5" text-anchor="middle" fill="#000" style="font-style:italic;">miR-34a/b/c-KO</text>
<line x1="371.00" y1="682.50" x2="629.80" y2="682.50" stroke="#777" stroke-width="1"/>
<text x="137.20" y="697.95" font-size="9.3" text-anchor="middle" fill="#000" style="">- CQ</text>
<line x1="83.20" y1="702.50" x2="200.30" y2="702.50" stroke="#777" stroke-width="1"/>
<text x="278.50" y="697.95" font-size="9.3" text-anchor="middle" fill="#000" style="">+ CQ</text>
<line x1="225.90" y1="702.50" x2="344.20" y2="702.50" stroke="#777" stroke-width="1"/>
<text x="426.20" y="695.65" font-size="9.3" text-anchor="middle" fill="#000" style="">- CQ</text>
<line x1="368.90" y1="702.50" x2="486.20" y2="702.50" stroke="#777" stroke-width="1"/>
<text x="563.30" y="695.65" font-size="9.3" text-anchor="middle" fill="#000" style="">+ CQ</text>
<line x1="511.70" y1="702.50" x2="628.50" y2="702.50" stroke="#777" stroke-width="1"/>
<text x="19.90" y="720.75" font-size="9.3" text-anchor="start" fill="#000" style="">5-FU (µM)</text>
<text x="84.70" y="720.65" font-size="9.3" text-anchor="middle" fill="#000" style="">0</text>
<text x="102.80" y="720.65" font-size="9.3" text-anchor="middle" fill="#000" style="">4</text>
<text x="126.10" y="720.65" font-size="9.3" text-anchor="middle" fill="#000" style="">8</text>
<text x="147.40" y="720.65" font-size="9.3" text-anchor="middle" fill="#000" style="">16</text>
<text x="169.90" y="720.65" font-size="9.3" text-anchor="middle" fill="#000" style="">32</text>
<text x="186.30" y="720.65" font-size="9.3" text-anchor="middle" fill="#000" style="">64</text>
<text x="228.90" y="720.65" font-size="9.3" text-anchor="middle" fill="#000" style="">0</text>
<text x="252.50" y="720.65" font-size="9.3" text-anchor="middle" fill="#000" style="">4</text>
<text x="271.50" y="720.65" font-size="9.3" text-anchor="middle" fill="#000" style="">8</text>
<text x="290.40" y="720.65" font-size="9.3" text-anchor="middle" fill="#000" style="">16</text>
<text x="310.90" y="720.65" font-size="9.3" text-anchor="middle" fill="#000" style="">32</text>
<text x="332.70" y="720.65" font-size="9.3" text-anchor="middle" fill="#000" style="">64</text>
<text x="374.20" y="720.65" font-size="9.3" text-anchor="middle" fill="#000" style="">0</text>
<text x="393.90" y="720.65" font-size="9.3" text-anchor="middle" fill="#000" style="">4</text>
<text x="417.50" y="720.65" font-size="9.3" text-anchor="middle" fill="#000" style="">8</text>
<text x="437.20" y="720.65" font-size="9.3" text-anchor="middle" fill="#000" style="">16</text>
<text x="457.20" y="720.65" font-size="9.3" text-anchor="middle" fill="#000" style="">32</text>
<text x="476.10" y="720.65" font-size="9.3" text-anchor="middle" fill="#000" style="">64</text>
<text x="516.80" y="720.65" font-size="9.3" text-anchor="middle" fill="#000" style="">0</text>
<text x="538.60" y="720.65" font-size="9.3" text-anchor="middle" fill="#000" style="">4</text>
<text x="558.90" y="720.65" font-size="9.3" text-anchor="middle" fill="#000" style="">8</text>
<text x="577.30" y="720.65" font-size="9.3" text-anchor="middle" fill="#000" style="">16</text>
<text x="598.30" y="720.65" font-size="9.3" text-anchor="middle" fill="#000" style="">32</text>
<text x="618.50" y="720.65" font-size="9.3" text-anchor="middle" fill="#000" style="">64</text>
<g clip-path="url(#c6)">
<rect x="68.60" y="726.60" width="280.20" height="30.20" fill="url(#g6)" stroke="none" stroke-width="0"/>
<ellipse cx="172.00" cy="731.00" rx="22.00" ry="6.00" fill="#4a4a4a" opacity="0.9" filter="url(#b40)"/>
<ellipse cx="208.60" cy="736.90" rx="5.50" ry="2.40" fill="#c4c4c4" opacity="0.9" filter="url(#b12)"/>
<ellipse cx="232.00" cy="754.50" rx="7.00" ry="1.00" fill="#a0a0a0" opacity="0.6" filter="url(#b10)"/>
<rect x="75.50" y="742.40" width="16.30" height="4.40" rx="2.20" fill="#000" opacity="0.95" filter="url(#b10)"/>
<rect x="96.90" y="742.70" width="15.70" height="3.80" rx="1.90" fill="#000" opacity="0.475" filter="url(#b10)"/>
<rect x="118.10" y="742.70" width="16.40" height="3.80" rx="1.90" fill="#000" opacity="0.5225" filter="url(#b10)"/>
<rect x="138.90" y="742.70" width="16.40" height="3.80" rx="1.90" fill="#000" opacity="0.5225" filter="url(#b10)"/>
<rect x="160.80" y="742.60" width="15.30" height="3.80" rx="1.90" fill="#000" opacity="0.475" filter="url(#b10)"/>
<rect x="180.50" y="742.70" width="16.40" height="3.60" rx="1.80" fill="#000" opacity="0.39899999999999997" filter="url(#b10)"/>
<rect x="220.30" y="742.20" width="17.40" height="4.20" rx="2.10" fill="#000" opacity="0.95" filter="url(#b10)"/>
<rect x="241.50" y="741.90" width="17.00" height="4.20" rx="2.10" fill="#000" opacity="0.95" filter="url(#b10)"/>
<rect x="263.40" y="742.00" width="16.40" height="4.00" rx="2.00" fill="#000" opacity="0.95" filter="url(#b10)"/>
<rect x="283.80" y="741.80" width="16.30" height="4.00" rx="2.00" fill="#000" opacity="0.95" filter="url(#b10)"/>
<rect x="304.20" y="741.40" width="16.30" height="4.20" rx="2.10" fill="#000" opacity="0.95" filter="url(#b10)"/>
<rect x="323.90" y="740.90" width="16.70" height="4.20" rx="2.10" fill="#000" opacity="0.95" filter="url(#b10)"/>
</g>
<rect x="68.60" y="726.60" width="280.20" height="30.20" fill="none" stroke="#1a1a1a" stroke-width="1.8"/>
<g clip-path="url(#c7)">
<rect x="359.60" y="727.60" width="278.90" height="29.60" fill="url(#g7)" stroke="none" stroke-width="0"/>
<ellipse cx="497.30" cy="736.20" rx="5.50" ry="2.40" fill="#c0c0c0" opacity="0.9" filter="url(#b12)"/>
<rect x="367.20" y="745.10" width="16.80" height="5.00" rx="2.50" fill="#000" opacity="0.95" filter="url(#b10)"/>
<rect x="387.80" y="745.00" width="17.00" height="4.60" rx="2.30" fill="#000" opacity="0.95" filter="url(#b10)"/>
<rect x="409.20" y="746.00" width="16.30" height="4.00" rx="2.00" fill="#000" opacity="0.855" filter="url(#b10)"/>
<rect x="431.10" y="746.50" width="14.60" height="3.40" rx="1.70" fill="#000" opacity="0.6174999999999999" filter="url(#b10)"/>
<rect x="450.80" y="744.00" width="15.30" height="3.60" rx="1.80" fill="#000" opacity="0.8075" filter="url(#b10)"/>
<rect x="470.50" y="742.80" width="16.40" height="4.00" rx="2.00" fill="#000" opacity="0.855" filter="url(#b10)"/>
<rect x="509.40" y="742.80" width="16.80" height="3.60" rx="1.80" fill="#000" opacity="0.95" filter="url(#b10)"/>
<rect x="530.60" y="742.80" width="17.00" height="3.60" rx="1.80" fill="#000" opacity="0.95" filter="url(#b10)"/>
<rect x="551.90" y="742.80" width="15.90" height="3.60" rx="1.80" fill="#000" opacity="0.95" filter="url(#b10)"/>
<rect x="572.20" y="742.50" width="15.70" height="4.20" rx="2.10" fill="#000" opacity="0.95" filter="url(#b10)"/>
<rect x="591.30" y="741.80" width="17.60" height="5.20" rx="2.60" fill="#000" opacity="0.95" filter="url(#b10)"/>
<rect x="612.30" y="741.00" width="17.20" height="6.60" rx="3.30" fill="#000" opacity="0.95" filter="url(#b10)"/>
</g>
<rect x="359.60" y="727.60" width="278.90" height="29.60" fill="none" stroke="#1a1a1a" stroke-width="1.8"/>
<text x="55.50" y="749.15" font-size="9.3" text-anchor="end" fill="#000" style="">p62</text>
<line x1="60.50" y1="745.50" x2="63.30" y2="745.50" stroke="#000" stroke-width="1"/>
<line x1="643.70" y1="745.50" x2="646.50" y2="745.50" stroke="#000" stroke-width="1"/>
<text x="650.80" y="748.35" font-size="9.3" text-anchor="start" fill="#000" style="">62 kDa</text>
<text x="61.30" y="771.55" font-size="9.3" text-anchor="end" fill="#000" style="">p62/β-actin</text>
<text x="83.80" y="773.95" font-size="9.3" text-anchor="middle" fill="#000" style="">1</text>
<text x="106.30" y="773.95" font-size="9.3" text-anchor="middle" fill="#000" style="">0.65</text>
<text x="128.20" y="773.95" font-size="9.3" text-anchor="middle" fill="#000" style="">0.55</text>
<text x="148.60" y="773.95" font-size="9.3" text-anchor="middle" fill="#000" style="">0.63</text>
<text x="169.60" y="773.95" font-size="9.3" text-anchor="middle" fill="#000" style="">0.73</text>
<text x="190.20" y="773.95" font-size="9.3" text-anchor="middle" fill="#000" style="">0.32</text>
<text x="232.00" y="773.95" font-size="9.3" text-anchor="middle" fill="#000" style="">2.30</text>
<text x="253.10" y="773.95" font-size="9.3" text-anchor="middle" fill="#000" style="">2.31</text>
<text x="273.60" y="773.95" font-size="9.3" text-anchor="middle" fill="#000" style="">1.75</text>
<text x="293.80" y="773.95" font-size="9.3" text-anchor="middle" fill="#000" style="">1.56</text>
<text x="314.30" y="773.95" font-size="9.3" text-anchor="middle" fill="#000" style="">1.34</text>
<text x="334.00" y="773.95" font-size="9.3" text-anchor="middle" fill="#000" style="">1.32</text>
<text x="375.50" y="773.95" font-size="9.3" text-anchor="middle" fill="#000" style="">1</text>
<text x="398.10" y="773.95" font-size="9.3" text-anchor="middle" fill="#000" style="">1.25</text>
<text x="417.50" y="773.95" font-size="9.3" text-anchor="middle" fill="#000" style="">0.91</text>
<text x="438.00" y="773.95" font-size="9.3" text-anchor="middle" fill="#000" style="">0.56</text>
<text x="458.20" y="773.95" font-size="9.3" text-anchor="middle" fill="#000" style="">0.80</text>
<text x="478.70" y="773.95" font-size="9.3" text-anchor="middle" fill="#000" style="">0.81</text>
<text x="522.10" y="773.95" font-size="9.3" text-anchor="middle" fill="#000" style="">1.13</text>
<text x="541.80" y="773.95" font-size="9.3" text-anchor="middle" fill="#000" style="">1.19</text>
<text x="560.70" y="773.95" font-size="9.3" text-anchor="middle" fill="#000" style="">1.20</text>
<text x="581.20" y="773.95" font-size="9.3" text-anchor="middle" fill="#000" style="">1.26</text>
<text x="603.50" y="773.95" font-size="9.3" text-anchor="middle" fill="#000" style="">1.95</text>
<text x="624.50" y="773.95" font-size="9.3" text-anchor="middle" fill="#000" style="">2.46</text>
<g clip-path="url(#c8)">
<rect x="68.40" y="784.80" width="280.60" height="52.20" fill="#afafaf" stroke="none" stroke-width="0"/>
<ellipse cx="215.00" cy="810.00" rx="8.00" ry="10.00" fill="#bdbdbd" opacity="0.7" filter="url(#b30)"/>
<ellipse cx="319.30" cy="808.50" rx="7.00" ry="3.00" fill="#d6d6d6" opacity="0.8" filter="url(#b18)"/>
<rect x="78.10" y="799.40" width="14.30" height="3.60" rx="1.80" fill="#222" opacity="0.35" filter="url(#b9)"/>
<rect x="98.90" y="799.10" width="13.20" height="3.80" rx="1.90" fill="#222" opacity="0.4" filter="url(#b9)"/>
<rect x="118.60" y="799.20" width="13.20" height="3.60" rx="1.80" fill="#222" opacity="0.38" filter="url(#b9)"/>
<rect x="138.40" y="798.40" width="13.70" height="3.40" rx="1.70" fill="#222" opacity="0.38" filter="url(#b9)"/>
<rect x="159.20" y="798.40" width="13.10" height="3.40" rx="1.70" fill="#222" opacity="0.35" filter="url(#b9)"/>
<rect x="180.00" y="798.10" width="13.10" height="2.80" rx="1.40" fill="#222" opacity="0.28" filter="url(#b9)"/>
<rect x="218.60" y="798.00" width="15.30" height="3.40" rx="1.70" fill="#222" opacity="0.35" filter="url(#b9)"/>
<rect x="239.40" y="798.20" width="15.30" height="3.40" rx="1.70" fill="#222" opacity="0.35" filter="url(#b9)"/>
<rect x="260.20" y="798.10" width="15.30" height="3.60" rx="1.80" fill="#222" opacity="0.38" filter="url(#b9)"/>
<rect x="279.90" y="799.10" width="15.30" height="3.80" rx="1.90" fill="#222" opacity="0.42" filter="url(#b9)"/>
<rect x="300.70" y="798.50" width="14.30" height="3.40" rx="1.70" fill="#222" opacity="0.35" filter="url(#b9)"/>
<rect x="320.40" y="797.50" width="15.40" height="3.40" rx="1.70" fill="#222" opacity="0.35" filter="url(#b9)"/>
<rect x="78.00" y="820.90" width="15.00" height="3.60" rx="1.80" fill="#111" opacity="0.6" filter="url(#b8)"/>
<rect x="98.00" y="820.80" width="15.00" height="3.80" rx="1.90" fill="#111" opacity="0.7" filter="url(#b8)"/>
<rect x="118.00" y="821.10" width="14.00" height="3.60" rx="1.80" fill="#111" opacity="0.6" filter="url(#b8)"/>
<rect x="138.00" y="820.40" width="15.00" height="3.60" rx="1.80" fill="#111" opacity="0.6" filter="url(#b8)"/>
<rect x="159.00" y="820.20" width="14.00" height="3.60" rx="1.80" fill="#111" opacity="0.6" filter="url(#b8)"/>
<rect x="180.00" y="818.70" width="14.00" height="4.00" rx="2.00" fill="#111" opacity="0.75" filter="url(#b8)"/>
<rect x="218.00" y="819.00" width="16.00" height="4.00" rx="2.00" fill="#111" opacity="0.85" filter="url(#b8)"/>
<rect x="239.00" y="819.50" width="16.00" height="3.80" rx="1.90" fill="#111" opacity="0.8" filter="url(#b8)"/>
<rect x="260.00" y="820.60" width="16.00" height="3.80" rx="1.90" fill="#111" opacity="0.8" filter="url(#b8)"/>
<rect x="280.00" y="820.90" width="16.00" height="4.20" rx="2.10" fill="#111" opacity="0.85" filter="url(#b8)"/>
<rect x="300.00" y="821.70" width="15.00" height="3.60" rx="1.80" fill="#111" opacity="0.8" filter="url(#b8)"/>
<rect x="320.00" y="819.70" width="17.00" height="5.00" rx="2.50" fill="#111" opacity="1" filter="url(#b8)"/>
</g>
<rect x="68.40" y="784.80" width="280.60" height="52.20" fill="none" stroke="#1a1a1a" stroke-width="1.8"/>
<g clip-path="url(#c9)">
<rect x="362.00" y="785.50" width="276.40" height="51.00" fill="url(#g9)" stroke="none" stroke-width="0"/>
<ellipse cx="368.00" cy="810.00" rx="6.00" ry="30.00" fill="#8c8c8c" opacity="0.7" filter="url(#b30)"/>
<rect x="374.30" y="800.40" width="14.60" height="3.00" rx="1.50" fill="#222" opacity="0.35" filter="url(#b9)"/>
<rect x="392.70" y="800.40" width="15.90" height="3.00" rx="1.50" fill="#222" opacity="0.35" filter="url(#b9)"/>
<rect x="413.00" y="800.40" width="16.40" height="3.00" rx="1.50" fill="#222" opacity="0.4" filter="url(#b9)"/>
<rect x="432.70" y="799.00" width="16.50" height="3.60" rx="1.80" fill="#222" opacity="0.6" filter="url(#b9)"/>
<rect x="452.40" y="799.10" width="16.50" height="3.40" rx="1.70" fill="#222" opacity="0.55" filter="url(#b9)"/>
<rect x="473.20" y="799.10" width="15.80" height="3.40" rx="1.70" fill="#222" opacity="0.55" filter="url(#b9)"/>
<rect x="509.20" y="800.25" width="4.40" height="2.50" rx="1.25" fill="#222" opacity="0.2" filter="url(#b9)"/>
<rect x="534.40" y="798.60" width="13.20" height="3.40" rx="1.70" fill="#222" opacity="0.55" filter="url(#b9)"/>
<rect x="553.00" y="800.00" width="14.30" height="3.00" rx="1.50" fill="#222" opacity="0.45" filter="url(#b9)"/>
<rect x="572.70" y="799.30" width="13.20" height="3.00" rx="1.50" fill="#222" opacity="0.45" filter="url(#b9)"/>
<rect x="592.40" y="799.70" width="14.30" height="3.00" rx="1.50" fill="#222" opacity="0.4" filter="url(#b9)"/>
<rect x="610.00" y="800.00" width="16.40" height="3.20" rx="1.60" fill="#222" opacity="0.5" filter="url(#b9)"/>
<rect x="374.30" y="822.00" width="14.70" height="3.60" rx="1.80" fill="#111" opacity="0.6" filter="url(#b8)"/>
<rect x="392.70" y="822.50" width="15.90" height="3.60" rx="1.80" fill="#111" opacity="0.6" filter="url(#b8)"/>
<rect x="413.00" y="822.00" width="16.40" height="3.60" rx="1.80" fill="#111" opacity="0.55" filter="url(#b8)"/>
<rect x="432.70" y="821.00" width="16.50" height="3.60" rx="1.80" fill="#111" opacity="0.65" filter="url(#b8)"/>
<rect x="452.40" y="821.80" width="16.50" height="3.60" rx="1.80" fill="#111" opacity="0.65" filter="url(#b8)"/>
<rect x="473.20" y="820.30" width="15.80" height="4.00" rx="2.00" fill="#111" opacity="0.6" filter="url(#b8)"/>
<rect x="509.90" y="821.00" width="17.90" height="5.00" rx="2.50" fill="#111" opacity="1" filter="url(#b8)"/>
<rect x="532.20" y="818.30" width="17.50" height="5.00" rx="2.50" fill="#111" opacity="1" filter="url(#b8)"/>
<rect x="552.40" y="819.30" width="17.00" height="6.00" rx="3.00" fill="#111" opacity="1" filter="url(#b8)"/>
<rect x="571.60" y="819.55" width="17.60" height="6.50" rx="3.25" fill="#111" opacity="1" filter="url(#b8)"/>
<rect x="590.20" y="819.55" width="17.60" height="6.50" rx="3.25" fill="#111" opacity="1" filter="url(#b8)"/>
<rect x="608.90" y="819.55" width="18.60" height="6.50" rx="3.25" fill="#111" opacity="1" filter="url(#b8)"/>
</g>
<rect x="362.00" y="785.50" width="276.40" height="51.00" fill="none" stroke="#1a1a1a" stroke-width="1.8"/>
<text x="55.50" y="805.15" font-size="9.3" text-anchor="end" fill="#000" style="">LC3B-I</text>
<line x1="60.50" y1="801.50" x2="63.30" y2="801.50" stroke="#000" stroke-width="1"/>
<text x="55.50" y="826.95" font-size="9.3" text-anchor="end" fill="#000" style="">LC3B-II</text>
<line x1="60.50" y1="823.50" x2="63.30" y2="823.50" stroke="#000" stroke-width="1"/>
<line x1="643.70" y1="802.50" x2="646.50" y2="802.50" stroke="#000" stroke-width="1"/>
<text x="651.60" y="805.35" font-size="9.3" text-anchor="start" fill="#000" style="">16 kDa</text>
<line x1="643.70" y1="824.50" x2="646.50" y2="824.50" stroke="#000" stroke-width="1"/>
<text x="651.60" y="827.75" font-size="9.3" text-anchor="start" fill="#000" style="">14 kDa</text>
<text x="61.30" y="852.65" font-size="9.3" text-anchor="end" fill="#000" style="">LC3B-II/β-actin</text>
<text x="83.20" y="852.85" font-size="9.3" text-anchor="middle" fill="#000" style="">1</text>
<text x="105.10" y="852.85" font-size="9.3" text-anchor="middle" fill="#000" style="">1.58</text>
<text x="128.50" y="852.85" font-size="9.3" text-anchor="middle" fill="#000" style="">1.34</text>
<text x="148.00" y="852.85" font-size="9.3" text-anchor="middle" fill="#000" style="">1.30</text>
<text x="167.90" y="852.85" font-size="9.3" text-anchor="middle" fill="#000" style="">1.60</text>
<text x="188.30" y="852.85" font-size="9.3" text-anchor="middle" fill="#000" style="">2.29</text>
<text x="228.90" y="852.85" font-size="9.3" text-anchor="middle" fill="#000" style="">3.29</text>
<text x="249.10" y="852.85" font-size="9.3" text-anchor="middle" fill="#000" style="">3.06</text>
<text x="269.30" y="852.85" font-size="9.3" text-anchor="middle" fill="#000" style="">2.72</text>
<text x="289.80" y="852.85" font-size="9.3" text-anchor="middle" fill="#000" style="">3.19</text>
<text x="310.30" y="852.85" font-size="9.3" text-anchor="middle" fill="#000" style="">2.20</text>
<text x="331.10" y="852.85" font-size="9.3" text-anchor="middle" fill="#000" style="">5.54</text>
<text x="380.20" y="852.85" font-size="9.3" text-anchor="middle" fill="#000" style="">1</text>
<text x="397.80" y="852.85" font-size="9.3" text-anchor="middle" fill="#000" style="">1.53</text>
<text x="420.90" y="852.85" font-size="9.3" text-anchor="middle" fill="#000" style="">1.27</text>
<text x="440.60" y="852.85" font-size="9.3" text-anchor="middle" fill="#000" style="">1.81</text>
<text x="460.40" y="852.85" font-size="9.3" text-anchor="middle" fill="#000" style="">1.88</text>
<text x="481.40" y="852.85" font-size="9.3" text-anchor="middle" fill="#000" style="">1.98</text>
<text x="521.60" y="852.85" font-size="9.3" text-anchor="middle" fill="#000" style="">4.32</text>
<text x="541.80" y="852.85" font-size="9.3" text-anchor="middle" fill="#000" style="">5.72</text>
<text x="562.30" y="852.85" font-size="9.3" text-anchor="middle" fill="#000" style="">6.57</text>
<text x="581.70" y="852.85" font-size="9.3" text-anchor="middle" fill="#000" style="">6.91</text>
<text x="602.20" y="852.85" font-size="9.3" text-anchor="middle" fill="#000" style="">9.03</text>
<text x="623.20" y="852.85" font-size="9.3" text-anchor="middle" fill="#000" style="">9.15</text>
<g clip-path="url(#c10)">
<rect x="69.20" y="859.30" width="278.20" height="28.90" fill="#dfdfdf" stroke="none" stroke-width="0"/>
<rect x="77.70" y="870.90" width="19.10" height="7.40" rx="3.70" fill="#000" opacity="1" filter="url(#b9)"/>
<rect x="98.90" y="870.90" width="17.80" height="7.40" rx="3.70" fill="#000" opacity="1" filter="url(#b9)"/>
<rect x="119.20" y="870.90" width="19.90" height="7.40" rx="3.70" fill="#000" opacity="1" filter="url(#b9)"/>
<rect x="141.20" y="870.90" width="16.90" height="7.40" rx="3.70" fill="#000" opacity="1" filter="url(#b9)"/>
<rect x="160.30" y="870.90" width="16.90" height="7.40" rx="3.70" fill="#000" opacity="1" filter="url(#b9)"/>
<rect x="180.20" y="870.90" width="18.20" height="7.40" rx="3.70" fill="#000" opacity="1" filter="url(#b9)"/>
<rect x="218.30" y="870.90" width="18.20" height="7.40" rx="3.70" fill="#000" opacity="1" filter="url(#b9)"/>
<rect x="239.40" y="870.90" width="18.20" height="7.40" rx="3.70" fill="#000" opacity="1" filter="url(#b9)"/>
<rect x="259.80" y="870.90" width="17.70" height="7.40" rx="3.70" fill="#000" opacity="1" filter="url(#b9)"/>
<rect x="280.10" y="870.90" width="17.80" height="7.40" rx="3.70" fill="#000" opacity="1" filter="url(#b9)"/>
<rect x="300.00" y="870.90" width="17.80" height="7.40" rx="3.70" fill="#000" opacity="1" filter="url(#b9)"/>
<rect x="319.90" y="870.90" width="16.90" height="7.40" rx="3.70" fill="#000" opacity="1" filter="url(#b9)"/>
</g>
<rect x="69.20" y="859.30" width="278.20" height="28.90" fill="none" stroke="#1a1a1a" stroke-width="1.8"/>
<g clip-path="url(#c11)">
<rect x="361.40" y="859.30" width="278.10" height="29.50" fill="#dfdfdf" stroke="none" stroke-width="0"/>
<rect x="367.70" y="871.40" width="20.30" height="7.20" rx="3.60" fill="#000" opacity="1" filter="url(#b9)"/>
<rect x="391.00" y="871.40" width="17.80" height="7.20" rx="3.60" fill="#000" opacity="1" filter="url(#b9)"/>
<rect x="411.30" y="871.40" width="17.80" height="7.20" rx="3.60" fill="#000" opacity="1" filter="url(#b9)"/>
<rect x="432.10" y="871.40" width="16.90" height="7.20" rx="3.60" fill="#000" opacity="1" filter="url(#b9)"/>
<rect x="452.40" y="871.40" width="16.10" height="7.20" rx="3.60" fill="#000" opacity="1" filter="url(#b9)"/>
<rect x="471.40" y="871.40" width="18.20" height="7.20" rx="3.60" fill="#000" opacity="1" filter="url(#b9)"/>
<rect x="510.80" y="871.40" width="18.60" height="7.20" rx="3.60" fill="#000" opacity="1" filter="url(#b9)"/>
<rect x="532.00" y="871.40" width="17.70" height="7.20" rx="3.60" fill="#000" opacity="1" filter="url(#b9)"/>
<rect x="551.90" y="871.40" width="16.90" height="7.20" rx="3.60" fill="#000" opacity="1" filter="url(#b9)"/>
<rect x="571.80" y="871.40" width="16.90" height="7.20" rx="3.60" fill="#000" opacity="1" filter="url(#b9)"/>
<rect x="592.10" y="871.40" width="16.90" height="7.20" rx="3.60" fill="#000" opacity="1" filter="url(#b9)"/>
<rect x="612.40" y="871.40" width="17.80" height="7.20" rx="3.60" fill="#000" opacity="1" filter="url(#b9)"/>
</g>
<rect x="361.40" y="859.30" width="278.10" height="29.50" fill="none" stroke="#1a1a1a" stroke-width="1.8"/>
<text x="56.00" y="878.05" font-size="9.3" text-anchor="end" fill="#000" style="">β-actin</text>
<line x1="60.50" y1="874.50" x2="63.30" y2="874.50" stroke="#000" stroke-width="1"/>
<line x1="643.70" y1="875.50" x2="646.50" y2="875.50" stroke="#000" stroke-width="1"/>
<text x="651.60" y="878.45" font-size="9.3" text-anchor="start" fill="#000" style="">42 kDa</text>
</svg></body></html>
